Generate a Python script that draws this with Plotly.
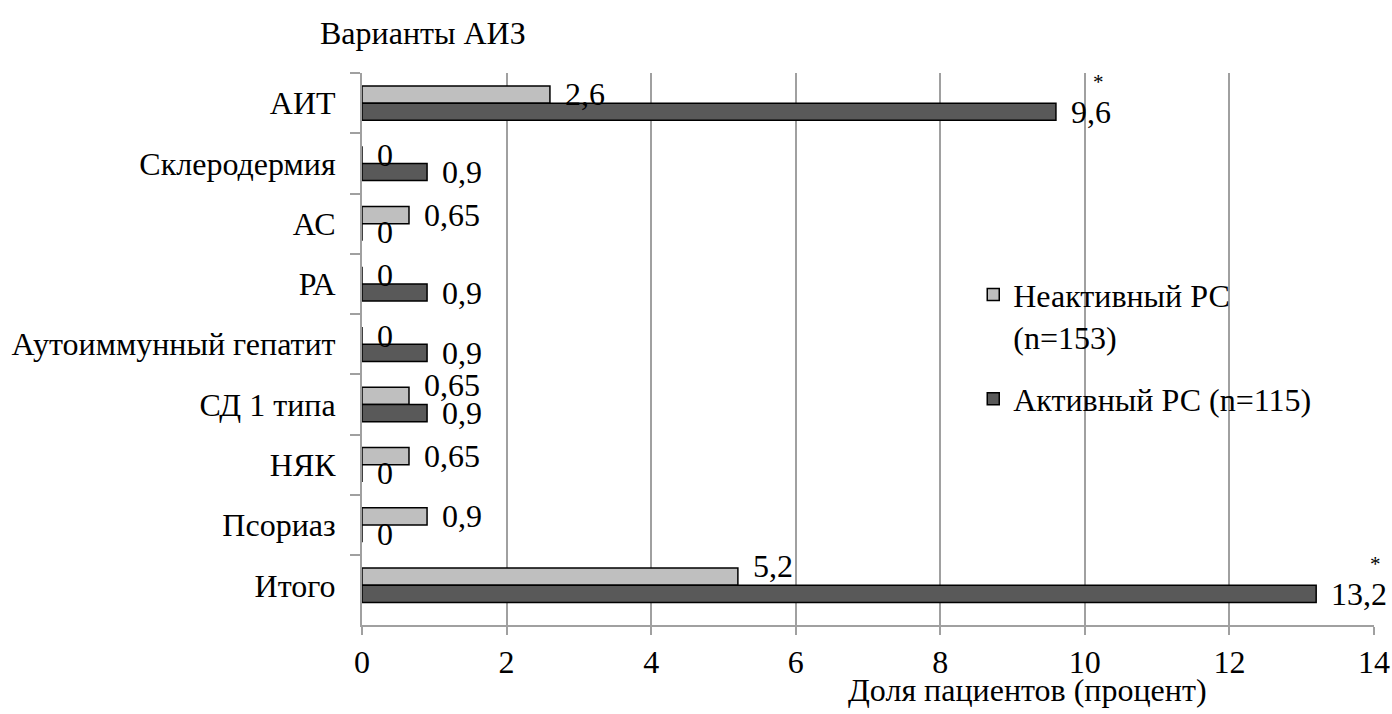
import plotly.graph_objects as go

# ---- data ----
categories = ["АИТ", "Склеродермия", "АС", "РА", "Аутоиммунный гепатит",
              "СД 1 типа", "НЯК", "Псориаз", "Итого"]
inactive = [2.6, 0, 0.65, 0, 0, 0.65, 0.65, 0.9, 5.2]
active = [9.6, 0.9, 0, 0.9, 0.9, 0.9, 0, 0, 13.2]
active_significance = ["*", "", "", "", "", "", "", "", "*"]
series_names = ["Неактивный РС<br>(n=153)", "Активный РС (n=115)"]
x_ticks = [0, 2, 4, 6, 8, 10, 12, 14]
title_text = "Варианты АИЗ"
x_title_text = "Доля пациентов (процент)"

# ---- style ----
FONT = "Liberation Serif"
FS = 32
LIGHT = "#bfbfbf"
DARK = "#595959"
GRID = "#a0a0a0"
BAR_HALF = 8.7          # half bar thickness in px
LABEL_PAD = 13
light_label_nudge = {"СД 1 типа": 11, "Итого": 11}


def fmt(v):
    return f"{v:g}".replace(".", ",")


def text_width(s, size=FS):
    w = 0
    for ch in s:
        w += 0.25 if ch in ",." else 0.5
    return w * size


fig = go.Figure()
fig.add_trace(go.Bar(
    y=categories, x=inactive, orientation="h", name=series_names[0],
    marker=dict(color=LIGHT, line=dict(color="black", width=1.5)),
    legendgroup="a",
))
fig.add_trace(go.Bar(
    y=categories, x=active, orientation="h", name=series_names[1],
    marker=dict(color=DARK, line=dict(color="black", width=1.5)),
    legendgroup="b",
))

annotations = []
for cat, v in zip(categories, inactive):
    annotations.append(dict(
        x=v, y=cat, xref="x", yref="y", text=fmt(v), showarrow=False,
        xanchor="left", yanchor="middle", xshift=LABEL_PAD,
        yshift=BAR_HALF + light_label_nudge.get(cat, 0),
        font=dict(family=FONT, size=FS, color="black"),
    ))
for cat, v, sig in zip(categories, active, active_significance):
    annotations.append(dict(
        x=v, y=cat, xref="x", yref="y", text=fmt(v), showarrow=False,
        xanchor="left", yanchor="middle", xshift=LABEL_PAD, yshift=-BAR_HALF,
        font=dict(family=FONT, size=FS, color="black"),
    ))
    if sig:
        annotations.append(dict(
            x=v, y=cat, xref="x", yref="y", text=sig, showarrow=False,
            xanchor="center", yanchor="middle",
            xshift=LABEL_PAD + text_width(fmt(v)) - 10, yshift=-BAR_HALF + 30,
            font=dict(family=FONT, size=21, color="black"),
        ))

annotations.append(dict(
    x=0.658, y=-0.118, xref="paper", yref="paper", text=x_title_text,
    showarrow=False, xanchor="center", yanchor="middle",
    font=dict(family=FONT, size=FS, color="black"),
))

fig.update_layout(
    width=1392, height=714,
    margin=dict(l=362, r=18, t=73, b=89, autoexpand=False),
    paper_bgcolor="white", plot_bgcolor="white",
    barmode="group", bargap=0.43, bargroupgap=0,
    font=dict(family=FONT, size=FS, color="black"),
    title=dict(text=title_text, x=320 / 1392, xanchor="left",
               y=1 - 33 / 714, yanchor="middle", xref="container", yref="container",
               font=dict(family=FONT, size=FS, color="black")),
    legend=dict(x=0.604, y=0.648, xanchor="left", yanchor="top",
                font=dict(family=FONT, size=FS, color="black"),
                bgcolor="rgba(0,0,0,0)", traceorder="grouped",
                tracegroupgap=18, valign="top"),
    annotations=annotations,
)
fig.update_xaxes(
    range=[0, 14], tickmode="array", tickvals=x_ticks,
    ticktext=[str(t) for t in x_ticks],
    showgrid=True, gridcolor=GRID, gridwidth=2,
    showline=True, linecolor=GRID, linewidth=2,
    ticks="outside", ticklen=8, tickcolor=GRID, tickwidth=2,
    zeroline=False, ticklabelstandoff=0, automargin=False,
    tickfont=dict(family=FONT, size=FS, color="black"),
)
fig.update_yaxes(
    type="category", categoryorder="array", categoryarray=categories,
    autorange="reversed",
    showgrid=False, showline=True, linecolor=GRID, linewidth=2,
    ticks="outside", ticklen=10, tickcolor=GRID, tickwidth=2,
    tickson="boundaries", ticklabelstandoff=18, automargin=False,
    tickfont=dict(family=FONT, size=FS, color="black"),
)

fig.write_html("out.html", config={"displayModeBar": False})
with open("out.html", encoding="utf-8") as f:
    html = f.read()
html = html.replace("<body>", "<body style=\"margin:0;padding:0;overflow:hidden\">", 1)
with open("out.html", "w", encoding="utf-8") as f:
    f.write(html)
